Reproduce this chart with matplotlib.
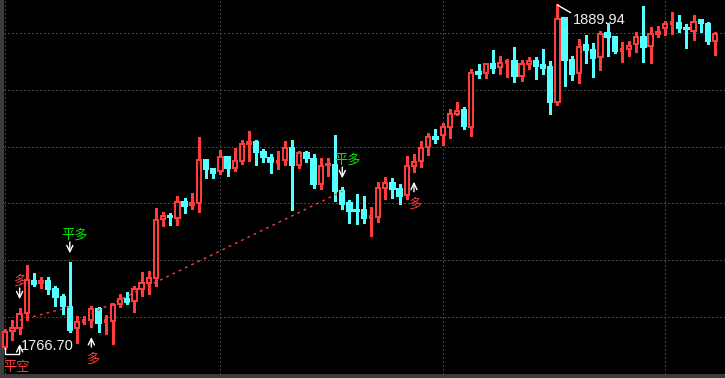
import matplotlib
matplotlib.use("Agg")
import matplotlib.pyplot as plt
from matplotlib.patches import Rectangle

# ---------------- data (price values) ----------------
opens = [1766.96, 1772.81, 1773.89, 1779.28, 1790.78, 1789.88, 1790.78, 1787.90, 1785.03, 1781.43,
         1773.89, 1776.40, 1776.76, 1780.72, 1776.23, 1776.40, 1782.51, 1784.31, 1783.59, 1787.90,
         1790.06, 1791.85, 1813.16, 1814.13, 1813.52, 1819.05, 1818.08, 1818.91, 1834.25, 1830.91,
         1830.41, 1835.22, 1831.49, 1834.00, 1840.11, 1840.72, 1837.02, 1834.97, 1833.53, 1834.14,
         1838.56, 1832.56, 1836.77, 1834.61, 1825.74, 1832.35, 1832.46, 1823.11, 1818.91, 1816.40,
         1816.29, 1813.41, 1813.88, 1824.30, 1825.88, 1823.83, 1821.57, 1832.20, 1834.00, 1838.82,
         1842.52, 1843.13, 1846.22, 1850.67, 1852.22, 1846.22, 1865.87, 1865.40, 1868.74, 1867.77,
         1869.21, 1869.82, 1864.54, 1868.64, 1869.82, 1868.39, 1867.56, 1855.20, 1885.16, 1870.18,
         1865.40, 1875.57, 1873.77, 1871.15, 1879.78, 1878.34, 1873.77, 1874.24, 1875.82, 1878.34,
         1875.32, 1879.42, 1881.57, 1883.26, 1883.37, 1881.68, 1880.71, 1884.55, 1883.12, 1877.12]
highs = [1773.17, 1776.40, 1780.72, 1796.17, 1793.29, 1792.03, 1791.85, 1788.62, 1785.75, 1797.24,
         1777.84, 1777.84, 1781.43, 1781.08, 1778.20, 1782.51, 1785.75, 1786.47, 1788.62, 1793.65,
         1794.01, 1816.65, 1815.21, 1814.85, 1820.96, 1820.24, 1822.04, 1842.26, 1834.25, 1831.02,
         1837.49, 1835.33, 1838.20, 1841.08, 1844.31, 1841.08, 1837.84, 1836.05, 1837.13, 1840.72,
         1841.08, 1837.23, 1837.23, 1836.05, 1834.50, 1834.61, 1842.88, 1824.19, 1819.52, 1821.68,
         1820.85, 1816.90, 1825.88, 1827.68, 1827.32, 1825.27, 1835.33, 1836.05, 1840.83, 1843.59,
         1845.03, 1847.19, 1852.22, 1854.62, 1852.83, 1866.59, 1868.39, 1868.92, 1873.42, 1871.15,
         1870.18, 1874.39, 1869.82, 1870.79, 1870.79, 1873.77, 1869.46, 1889.94, 1885.16, 1871.37,
         1877.37, 1878.81, 1875.93, 1880.35, 1883.01, 1878.45, 1876.40, 1876.76, 1879.99, 1889.33,
         1881.57, 1881.93, 1883.94, 1886.96, 1885.99, 1882.76, 1885.99, 1884.55, 1883.37, 1879.78]
lows = [1766.70, 1769.94, 1772.09, 1777.12, 1789.34, 1788.62, 1786.47, 1782.15, 1779.28, 1772.81,
        1768.86, 1775.69, 1774.61, 1772.81, 1772.09, 1768.50, 1781.79, 1782.87, 1780.00, 1785.75,
        1786.47, 1789.34, 1810.90, 1811.26, 1811.26, 1815.57, 1817.01, 1816.04, 1828.14, 1828.14,
        1829.58, 1828.86, 1830.66, 1833.17, 1834.25, 1832.81, 1834.00, 1829.94, 1831.38, 1832.81,
        1816.75, 1831.63, 1834.00, 1824.66, 1824.19, 1828.86, 1819.88, 1816.90, 1812.08, 1811.72,
        1812.08, 1807.30, 1812.44, 1820.49, 1820.85, 1818.69, 1820.60, 1830.41, 1832.10, 1836.41,
        1840.72, 1840.00, 1842.62, 1850.60, 1845.64, 1843.23, 1864.18, 1864.18, 1865.98, 1865.62,
        1864.54, 1862.74, 1863.00, 1867.20, 1863.82, 1865.40, 1851.25, 1854.37, 1861.20, 1863.36,
        1862.39, 1869.57, 1864.43, 1866.95, 1871.98, 1872.95, 1869.82, 1871.98, 1873.52, 1869.82,
        1869.57, 1878.91, 1879.42, 1879.78, 1880.71, 1874.96, 1877.62, 1880.71, 1876.40, 1872.23]
closes = [1772.34, 1773.89, 1778.92, 1791.14, 1789.70, 1790.60, 1787.90, 1785.03, 1781.79, 1773.17,
          1776.05, 1776.58, 1780.72, 1775.69, 1776.40, 1782.15, 1784.31, 1783.23, 1787.90, 1790.06,
          1791.85, 1812.69, 1814.13, 1813.66, 1819.05, 1817.72, 1818.69, 1834.25, 1831.02, 1829.69,
          1835.22, 1831.49, 1833.89, 1840.00, 1840.72, 1837.13, 1835.33, 1833.53, 1833.78, 1838.46,
          1832.56, 1836.77, 1834.97, 1825.74, 1831.99, 1832.92, 1823.22, 1818.44, 1816.04, 1815.93,
          1813.52, 1813.77, 1824.08, 1825.88, 1823.94, 1821.43, 1832.10, 1833.64, 1838.46, 1842.52,
          1841.90, 1846.00, 1850.78, 1851.86, 1846.58, 1865.62, 1865.15, 1868.74, 1867.42, 1869.00,
          1869.57, 1864.54, 1868.74, 1869.82, 1868.03, 1867.42, 1855.20, 1884.91, 1870.18, 1865.15,
          1874.96, 1873.77, 1871.01, 1879.52, 1878.55, 1873.42, 1874.03, 1875.21, 1878.34, 1874.96,
          1879.52, 1880.35, 1883.01, 1883.37, 1881.79, 1881.21, 1883.94, 1883.37, 1877.12, 1879.52]

grid_prices = [1879.88, 1859.40, 1838.92, 1818.80, 1798.32, 1777.84]
grid_bars = [0, 30, 61, 92]

# trade lines: (entry bar, entry price, exit bar, exit price)
trade_lines = [(2, 1776.69, 9, 1781.43), (12, 1779.06, 47, 1822.97)]

# signals: (bar, label, colour, side)
signals = [(2, "平空", "#ff3c3c", "below"),
           (2, "多", "#ff3c3c", "above"),
           (9, "平多", "#00e800", "above"),
           (12, "多", "#ff3c3c", "below"),
           (47, "平多", "#00e800", "above"),
           (57, "多", "#ff3c3c", "below")]

high_label = "1889.94"
low_label = "1766.70"

# ---------------- styling ----------------
UP = "#ff3c3c"
DOWN = "#54ffff"
BG = "#000000"
GRID = "#444444"
W, H, DPI = 7.25, 3.78, 100

fig = plt.figure(figsize=(W, H), dpi=DPI, facecolor=BG)
ax = fig.add_axes([0, 0, 1, 1])
ax.set_facecolor(BG)
ax.set_xlim(-0.739, 100.38)
ax.set_ylim(1755.92, 1891.74)
ax.axis("off")

# grid
for gp in grid_prices:
    ax.axhline(gp, color=GRID, lw=1, ls=(0, (1, 2)), antialiased=False, zorder=0)
for gb in grid_bars:
    ax.axvline(gb, color=GRID, lw=1, ls=(0, (1, 2)), antialiased=False, zorder=0)

# frame lines (left and bottom)
ax.plot([0.0015, 0.0015], [0, 1], transform=ax.transAxes, color="#3c3c3c", lw=2.2,
        antialiased=False, zorder=1)
ax.plot([0, 1], [0.0066, 0.0066], transform=ax.transAxes, color="#3c3c3c", lw=1.6,
        antialiased=False, zorder=1)

# candles
bw = 0.6
for i, (o, h, l, c) in enumerate(zip(opens, highs, lows, closes)):
    up = c >= o
    col = UP if up else DOWN
    ax.plot([i, i], [l, h], color=col, lw=1, antialiased=False, zorder=2)
    lo, hi = min(o, c), max(o, c)
    if hi - lo < 0.45:
        ax.plot([i - bw / 2, i + bw / 2], [(o + c) / 2] * 2, color=col, lw=1.6,
                antialiased=False, zorder=3, solid_capstyle="butt")
    else:
        ax.add_patch(Rectangle((i - bw / 2, lo), bw, hi - lo,
                               facecolor=BG if up else col, edgecolor=col, lw=1.1,
                               antialiased=False, zorder=3))

# trade lines
for b0, p0, b1, p1 in trade_lines:
    ax.plot([b0, b1], [p0, p1], color=UP, lw=1, ls=(0, (2, 3)), zorder=4)

# signals
cjk = ["Noto Sans CJK SC", "DejaVu Sans"]
ARROW = dict(arrowstyle="->,head_length=0.45,head_width=0.22", color="white", lw=1,
             shrinkA=0)
for b, lab, col, side in signals:
    if side == "above":
        y = highs[b]
        ax.annotate("", xy=(b, y), xycoords="data", xytext=(0, 21),
                    textcoords="offset pixels", arrowprops=dict(ARROW, shrinkB=7))
        dx = 5 if len(lab) > 1 else 0
        ax.annotate(lab, xy=(b, y), xycoords="data", xytext=(dx, 28),
                    textcoords="offset pixels", ha="center", va="center",
                    color=col, fontsize=9.5, family=cjk)
    else:
        y = lows[b]
        ax.annotate("", xy=(b, y), xycoords="data", xytext=(0, -21),
                    textcoords="offset pixels", arrowprops=dict(ARROW, shrinkB=8))
        if len(lab) > 1:
            ax.annotate(lab, xy=(b, y), xycoords="data", xytext=(-3, -35),
                        textcoords="offset pixels", ha="center", va="center",
                        color=col, fontsize=9.5, family=cjk)
        else:
            ax.annotate(lab, xy=(b, y), xycoords="data", xytext=(1, -33),
                        textcoords="offset pixels", ha="center", va="center",
                        color=col, fontsize=9.5, family=cjk)

# high / low markers
ih = highs.index(max(highs))
il = lows.index(min(lows))
ax.annotate(high_label, xy=(ih, highs[ih]), xycoords="data", xytext=(16, -15),
            textcoords="offset pixels", ha="left", va="center", color="#f0f0f0",
            fontsize=10.5, family="Liberation Sans",
            arrowprops=dict(arrowstyle="-", color="white", lw=1, shrinkA=0, shrinkB=0,
                            connectionstyle="angle,angleA=0,angleB=-30,rad=0"))
ax.annotate(low_label, xy=(il, lows[il]), xycoords="data", xytext=(16, 2),
            textcoords="offset pixels", ha="left", va="center", color="#f0f0f0",
            fontsize=10.5, family="Liberation Sans")
ax.annotate("", xy=(il, lows[il]), xycoords="data", xytext=(14, -6),
            textcoords="offset pixels",
            arrowprops=dict(arrowstyle="-", color="white", lw=1, shrinkA=0, shrinkB=0,
                            connectionstyle="angle,angleA=0,angleB=90,rad=0"))

fig.savefig("out.png", dpi=DPI, facecolor=BG)
